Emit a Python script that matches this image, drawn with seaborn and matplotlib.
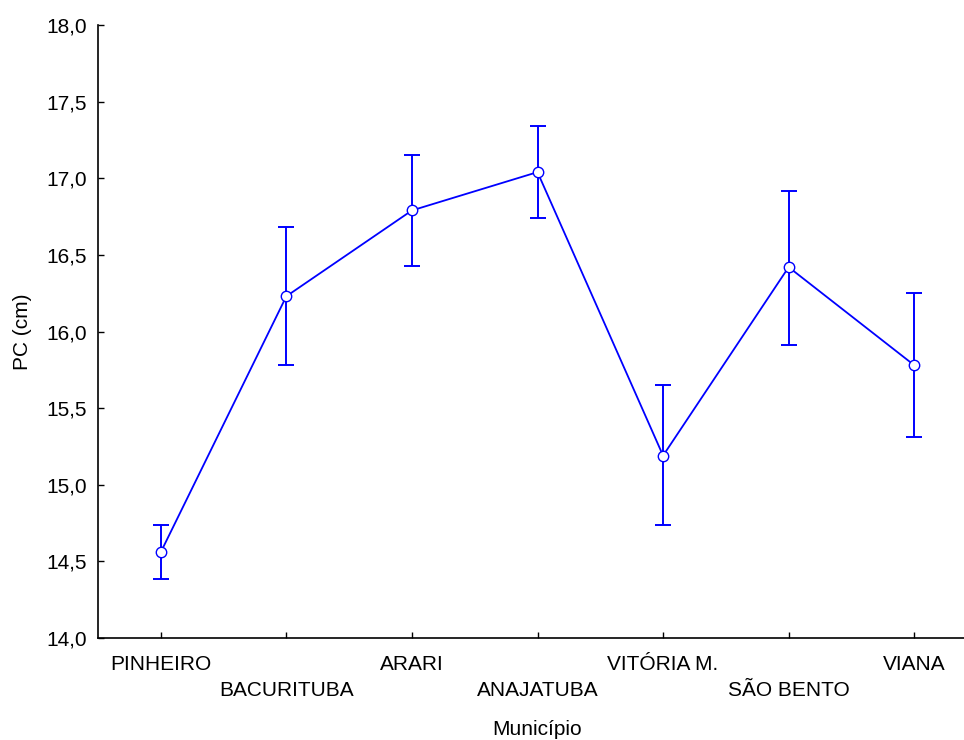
import matplotlib
matplotlib.use("Agg")
import pandas as pd
import seaborn as sns
from matplotlib import pyplot as plt
from matplotlib.ticker import FuncFormatter, MultipleLocator

# values
municipios = ["PINHEIRO", "BACURITUBA", "ARARI", "ANAJATUBA", "VITÓRIA M.", "SÃO BENTO", "VIANA"]
pc_mean = [14.56, 16.23, 16.79, 17.04, 15.19, 16.42, 15.78]
pc_upper = [14.74, 16.68, 17.15, 17.34, 15.65, 16.92, 16.25]
pc_lower = [14.385, 15.78, 16.43, 16.74, 14.74, 15.91, 15.31]

sns.set_style("ticks")
plt.rcParams["font.family"] = ["Liberation Sans", "DejaVu Sans"]
plt.rcParams["text.color"] = "black"
plt.rcParams["axes.labelcolor"] = "black"
plt.rcParams["xtick.color"] = "black"
plt.rcParams["ytick.color"] = "black"

df = pd.DataFrame({"municipio": municipios, "pc": pc_mean})

fig = plt.figure(figsize=(9.64, 7.4), dpi=100)
ax = fig.add_axes([98 / 964, 102 / 740, 879 / 964, 613 / 740])

# error bars first, so the markers sit on top
yerr = [[m - lo for m, lo in zip(pc_mean, pc_lower)],
        [hi - m for m, hi in zip(pc_mean, pc_upper)]]
ax.errorbar(range(len(municipios)), pc_mean, yerr=yerr, fmt="none", ecolor="#0000ff",
            elinewidth=1.4, capsize=6, capthick=1.4, zorder=2)

sns.pointplot(data=df, x="municipio", y="pc", errorbar=None, color="#0000ff", ax=ax,
              linewidth=1.3, markers="o", markersize=7.5, markerfacecolor="white",
              markeredgecolor="#0000ff", markeredgewidth=1.0, zorder=3)

ax.set_xlim(-0.5, len(municipios) - 0.5)
ax.set_ylim(14.0, 18.0)
ax.yaxis.set_major_locator(MultipleLocator(0.5))
ax.yaxis.set_major_formatter(FuncFormatter(lambda v, _: f"{v:.1f}".replace(".", ",")))

# alternate the category labels on two rows
labels = [m if i % 2 == 0 else "\n" + m for i, m in enumerate(municipios)]
ax.set_xticks(range(len(municipios)))
ax.set_xticklabels(labels, fontsize=15, linespacing=1.5)
ax.tick_params(axis="y", labelsize=15, pad=8)
ax.tick_params(axis="x", pad=12)
ax.tick_params(direction="in", length=4, width=1, color="black")

ax.set_xlabel("Município", fontsize=15, labelpad=14)
ax.set_ylabel("PC (cm)", fontsize=15, labelpad=10)

for side in ["top", "right"]:
    ax.spines[side].set_visible(False)
for side in ["left", "bottom"]:
    ax.spines[side].set_linewidth(1.2)
    ax.spines[side].set_color("black")

fig.savefig("out.png", dpi=100)
